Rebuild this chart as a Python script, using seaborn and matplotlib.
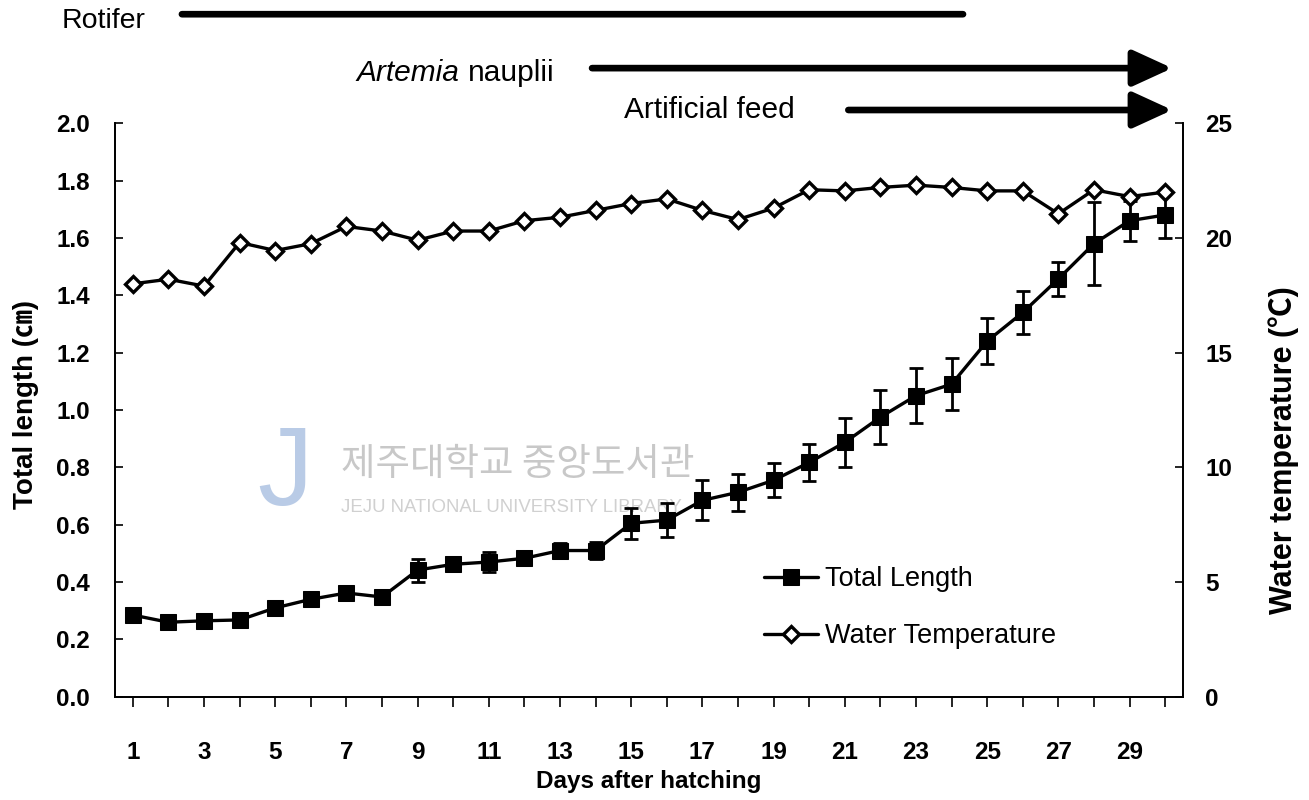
import matplotlib
matplotlib.use("Agg")
import matplotlib.pyplot as plt
import numpy as np
import pandas as pd
import seaborn as sns

# values
DAYS = list(range(1, 31))
TOTAL_LENGTH = [0.285, 0.26, 0.265, 0.268, 0.31, 0.34, 0.362, 0.348, 0.442, 0.462,
                0.47, 0.483, 0.51, 0.51, 0.605, 0.616, 0.685, 0.713, 0.755, 0.817,
                0.887, 0.975, 1.05, 1.09, 1.24, 1.34, 1.457, 1.58, 1.66, 1.68]
LENGTH_SD = [0.01, 0.01, 0.01, 0.01, 0.01, 0.01, 0.01, 0.01, 0.04, 0.02,
             0.035, 0.02, 0.025, 0.03, 0.055, 0.06, 0.07, 0.065, 0.06, 0.065,
             0.085, 0.095, 0.095, 0.09, 0.08, 0.075, 0.06, 0.145, 0.07, 0.08]
WATER_TEMP = [18.0, 18.2, 17.9, 19.8, 19.45, 19.75, 20.5, 20.3, 19.9, 20.3,
              20.3, 20.75, 20.9, 21.2, 21.5, 21.7, 21.2, 20.8, 21.3, 22.1,
              22.05, 22.2, 22.3, 22.2, 22.05, 22.05, 21.05, 22.1, 21.8, 22.0]
LEFT_TICKS = [0.0, 0.2, 0.4, 0.6, 0.8, 1.0, 1.2, 1.4, 1.6, 1.8, 2.0]
RIGHT_TICKS = [0, 5, 10, 15, 20, 25]
# feeding periods (start day, end day)
FEEDS = ["Rotifer", "Artemia", "Artificial feed"]
FEED_START = [2.3, 13.9, 21.1]
FEED_END = [24.4, 30.2, 30.2]

df = pd.DataFrame({"day": DAYS, "length": TOTAL_LENGTH, "sd": LENGTH_SD, "temp": WATER_TEMP})

sns.set_style("ticks")
plt.rcParams["font.family"] = ["Liberation Sans", "Noto Sans CJK KR", "DejaVu Sans"]
plt.rcParams.update({"text.color": "black", "axes.labelcolor": "black",
                     "xtick.color": "black", "ytick.color": "black"})

fig = plt.figure(figsize=(13.09, 8), dpi=100)
ax = fig.add_axes([0.0879, 0.129, 0.8158, 0.717])
ax2 = ax.twinx()

# watermark (faint, behind the data)
ax.text(0.159, 0.385, "J", transform=ax.transAxes, fontsize=80, color="#b9cbe6",
        ha="center", va="center", zorder=0)
ax.text(0.212, 0.405, "제주대학교 중앙도서관", transform=ax.transAxes, fontsize=27,
        color="#c8c8c8", family=["Noto Sans CJK KR"], ha="left", va="center", zorder=0)
ax.text(0.212, 0.33, "JEJU NATIONAL UNIVERSITY LIBRARY", transform=ax.transAxes,
        fontsize=13.4, color="#d0d0d0", ha="left", va="center", zorder=0)

ax.errorbar(df["day"], df["length"], yerr=df["sd"], fmt="none", ecolor="black",
            elinewidth=2, capsize=5, capthick=2, zorder=3)
sns.lineplot(data=df, x="day", y="length", ax=ax, color="black", lw=2.4, marker="s",
             markersize=11, markeredgecolor="black", markerfacecolor="black",
             label="Total Length", legend=False, zorder=4)
sns.lineplot(data=df, x="day", y="temp", ax=ax2, color="black", lw=2.4, marker="D",
             markersize=8.5, markeredgecolor="black", markerfacecolor="white",
             markeredgewidth=2.4, label="Water Temperature", legend=False, zorder=4)

ax.set_xlim(0.5, 30.5)
ax.set_ylim(0, 2.0)
ax2.set_ylim(0, 25)
ax.set_xticks(DAYS)
ax.set_xticklabels([str(d) if d % 2 == 1 else "" for d in DAYS])
ax.set_yticks(LEFT_TICKS)
ax.set_yticklabels([f"{v:.1f}" for v in LEFT_TICKS])
ax2.set_yticks(RIGHT_TICKS)

ax.tick_params(axis="x", direction="out", length=7, width=1.2, pad=25, labelsize=17.5)
ax.tick_params(axis="y", direction="in", length=6, width=1.2, pad=18, labelsize=17.5)
ax2.tick_params(axis="y", direction="in", length=6, width=1.2, pad=16, labelsize=17.5)
for lab in ax.get_xticklabels() + ax.get_yticklabels() + ax2.get_yticklabels():
    lab.set_fontweight("bold")

for a in (ax, ax2):
    a.spines["top"].set_visible(False)
    for s in ("left", "right", "bottom"):
        a.spines[s].set_linewidth(1.3)
        a.spines[s].set_color("black")
    a.set_zorder(1)
ax.patch.set_visible(False)
ax2.patch.set_visible(False)

ax.set_xlabel("Days after hatching", fontsize=17.5, fontweight="bold")
ax.xaxis.set_label_coords(0.5, -0.128)
ax.set_ylabel("Total length (㎝)", fontsize=20, fontweight="bold")
ax.yaxis.set_label_coords(-0.071, 0.509)
ax2.set_ylabel("Water temperature (℃)", fontsize=22, fontweight="bold", rotation=90)
ax2.yaxis.set_label_coords(1.08, 0.43)

# feeding schedule above the plot
feed_y = [1.19, 1.096, 1.023]
trans = ax.get_xaxis_transform()
ax.annotate("", xy=(FEED_END[0], feed_y[0]), xytext=(FEED_START[0], feed_y[0]),
            xycoords=trans, textcoords=trans, annotation_clip=False,
            arrowprops=dict(arrowstyle="-", lw=4.8, color="black"))
for i in (1, 2):
    ax.annotate("", xy=(FEED_END[i], feed_y[i]), xytext=(FEED_START[i], feed_y[i]),
                xycoords=trans, textcoords=trans, annotation_clip=False,
                arrowprops=dict(arrowstyle="-|>,head_length=1.2,head_width=0.55",
                                mutation_scale=20, lw=4.8, color="black",
                                shrinkA=0, shrinkB=0))
ax.text(-1.0, feed_y[0] - 0.012, FEEDS[0], transform=trans, fontsize=20.5, ha="left", va="center")
naup = ax.text(12.85, feed_y[1] - 0.008, "nauplii", transform=trans, fontsize=21.5,
               ha="right", va="center")
ax.annotate(FEEDS[1] + " ", xy=(0, 0.5), xycoords=naup, fontsize=21.5, style="italic",
            ha="right", va="center")
ax.text(19.6, feed_y[2], FEEDS[2], transform=trans, fontsize=21.5, ha="right", va="center")

h1, l1 = ax.get_legend_handles_labels()
h2, l2 = ax2.get_legend_handles_labels()
leg = ax2.legend(h1 + h2, l1 + l2, loc="center left", bbox_to_anchor=(0.585, 0.155),
                 frameon=False, fontsize=19.5, handlelength=2.0, handletextpad=0.25,
                 labelspacing=1.15)

fig.savefig("out.png", dpi=100)
